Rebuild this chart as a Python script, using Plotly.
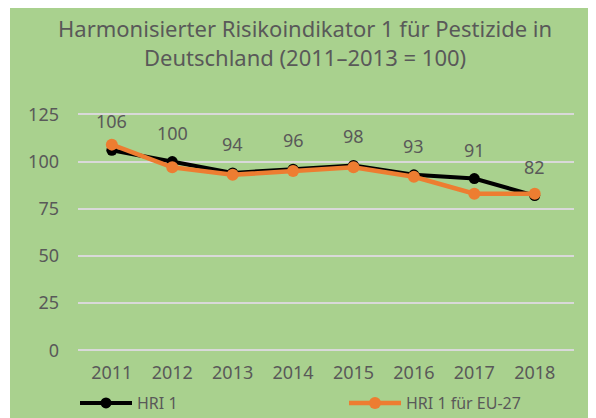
import plotly.graph_objects as go

years = ["2011", "2012", "2013", "2014", "2015", "2016", "2017", "2018"]
hri1 = [106, 100, 94, 96, 98, 93, 91, 82]
hri1_eu27 = [109, 97, 93, 95, 97, 92, 83, 83]
y_ticks = [0, 25, 50, 75, 100, 125]

title_text = "Harmonisierter Risikoindikator 1 für Pestizide in<br>Deutschland (2011–2013 = 100)"

GREEN = "#a9d18e"
TEXT = "#595959"
FONT = "Noto Sans"

W, H = 596, 418
OFF = 8  # page body margin offset
# plot area in window pixels: x 78..574, y 105..356
PL, PR, PT, PB = 78 - OFF, 574 - OFF, 105 - OFF, 356 - OFF
ML, MR, MT, MB = PL, W - PR, PT, H - PB
pw, ph = PR - PL, PB - PT


def px(xw):
    return (xw - OFF - PL) / pw


def py(yw):
    return (PB - (yw - OFF)) / ph


fig = go.Figure()
fig.add_trace(go.Scatter(
    x=years, y=hri1, name="HRI 1", mode="lines+markers",
    line=dict(color="black", width=4),
    marker=dict(color="black", size=11),
))
fig.add_trace(go.Scatter(
    x=years, y=hri1_eu27, name="HRI 1 für EU-27", mode="lines+markers",
    line=dict(color="#ed7d31", width=4.5),
    marker=dict(color="#ed7d31", size=12),
))

for i, v in enumerate(hri1):
    fig.add_annotation(x=i, y=v, xref="x", yref="y", text=str(v),
                       showarrow=False, yshift=29,
                       font=dict(family=FONT, size=18, color=TEXT))

fig.add_annotation(text=title_text, xref="paper", yref="paper",
                   x=px(305), y=py(11),
                   xanchor="center", yanchor="top", showarrow=False,
                   font=dict(family=FONT, size=22, color=TEXT))

fig.add_shape(type="rect", xref="paper", yref="paper", layer="below",
              x0=px(10), x1=px(W + OFF), y0=py(H + OFF), y1=py(7),
              fillcolor=GREEN, line=dict(width=0))

fig.update_layout(
    width=W, height=H,
    margin=dict(l=ML, r=MR, t=MT, b=MB, autoexpand=False),
    paper_bgcolor="white", plot_bgcolor="rgba(0,0,0,0)",
    font=dict(family=FONT, color=TEXT),
    xaxis=dict(type="category", range=[-0.56, 7.65], showgrid=False,
               showline=False, zeroline=False, ticks="",
               tickfont=dict(family=FONT, size=18, color=TEXT),
               ticklabelstandoff=4),
    yaxis=dict(range=[-3, 130], tickvals=y_ticks, showgrid=True,
               gridcolor="#d9d9d9", gridwidth=1.5, zeroline=False,
               showline=False, ticks="",
               tickfont=dict(family=FONT, size=18, color=TEXT),
               ticklabelstandoff=18),
    legend=dict(orientation="h", x=px(75), xanchor="left",
                y=py(403), yanchor="middle",
                itemwidth=52,
                entrywidth=202, entrywidthmode="pixels",
                bgcolor="rgba(0,0,0,0)",
                font=dict(family=FONT, size=16, color=TEXT)),
    showlegend=True,
)

fig.write_html("out.html")
